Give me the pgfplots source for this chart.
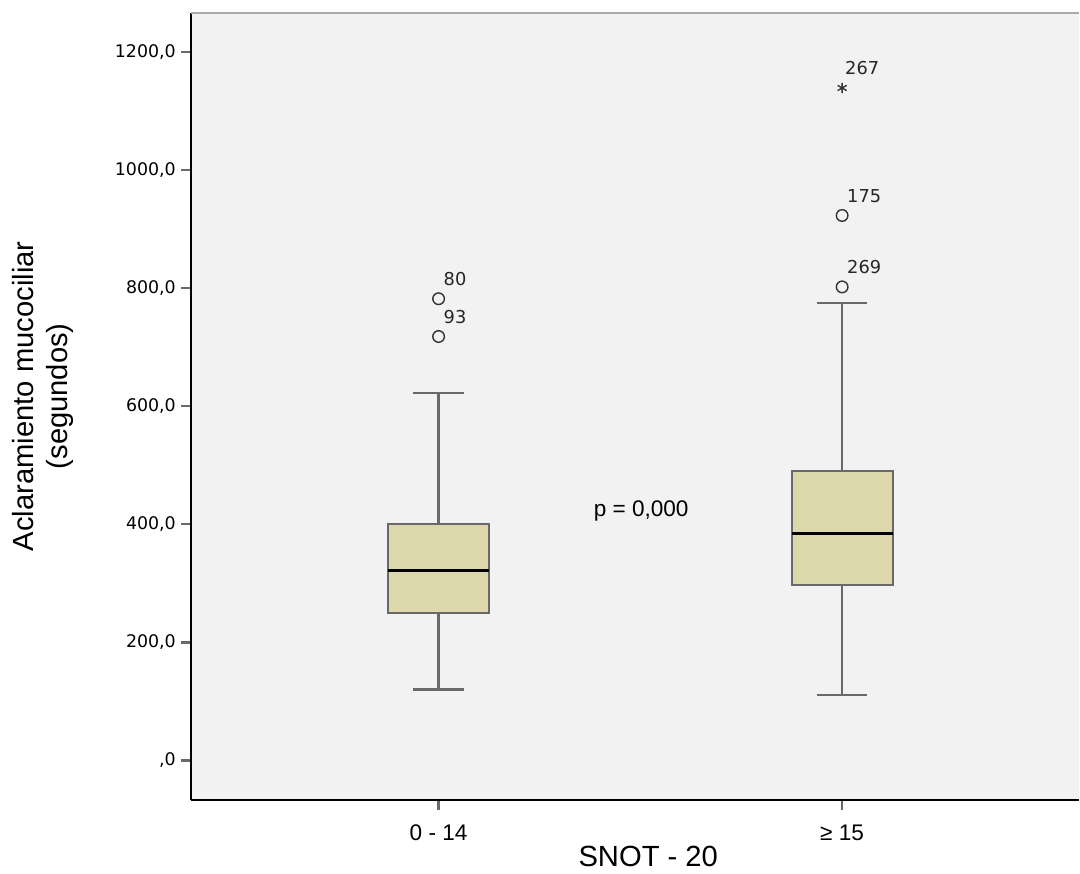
\documentclass[border=0pt]{standalone}
\usepackage{fontspec}
\setmainfont{Liberation Sans}
\newfontfamily\dv{DejaVu Sans}
\usepackage{pgfplots}
\pgfplotsset{compat=1.18}
\definecolor{bg}{RGB}{242,242,242}
\definecolor{boxfill}{RGB}{220,216,172}
\definecolor{boxedge}{RGB}{105,105,105}
\definecolor{topline}{RGB}{170,170,170}
\begin{document}
\begin{tikzpicture}
\path (-95.5pt,-35.65pt) rectangle (444.5pt,400.35pt);
\begin{axis}[
  scale only axis, width=444.5pt, height=393.85pt,
  at={(0pt,0pt)}, anchor=south west,
  xmin=-0.614, xmax=1.587, ymin=-67, ymax=1266,
  axis background/.style={fill=bg},
  axis x line*=bottom, axis y line*=left,
  axis line style={black, line width=1pt, -},
  tick align=outside, major tick length=5pt,
  tick style={color=boxedge, line width=1.2pt},
  xtick={0,1}, xticklabels={0 - 14, ≥ 15},
  xticklabel style={font=\fontsize{11.3}{13}\selectfont, anchor=north, yshift=-4pt},
  ytick={0,200,400,600,800,1000,1200},
  yticklabels={{,0},{200,0},{400,0},{600,0},{800,0},{1000,0},{1200,0}},
  yticklabel style={font=\dv\fontsize{8.7}{10}\selectfont, anchor=east, xshift=1pt},
  xlabel={SNOT - 20},
  xlabel style={font=\fontsize{14.6}{17}\selectfont, at={(axis description cs:0.515,-0.072)}, anchor=center},
  ylabel={Aclaramiento mucociliar\\(segundos)},
  ylabel style={font=\fontsize{14.6}{17}\selectfont, align=center, at={(axis description cs:-0.166,0.513)}, anchor=center},
  clip=false,
]
\draw[topline, line width=1pt] (rel axis cs:0,1) -- (rel axis cs:1,1);
% group 0-14: whiskers 120 / 623, box 250.5-401, median 321.6
\addplot[boxedge, line width=1.1pt] coordinates {(0,120) (0,250.5)};
\addplot[boxedge, line width=1.1pt] coordinates {(0,401) (0,623)};
\addplot[boxedge, line width=1.1pt] coordinates {(-0.0625,120) (0.0625,120)};
\addplot[boxedge, line width=1.1pt] coordinates {(-0.0625,623) (0.0625,623)};
\addplot[fill=boxfill, draw=boxedge, line width=1pt] coordinates {(-0.125,250.5) (0.125,250.5) (0.125,401) (-0.125,401)} -- cycle;
\addplot[black, line width=1.6pt] coordinates {(-0.125,321.6) (0.125,321.6)};
% group >=15: whiskers 110.5 / 775, box 296.7-489.7, median 385
\addplot[boxedge, line width=1.1pt] coordinates {(1,110.5) (1,296.7)};
\addplot[boxedge, line width=1.1pt] coordinates {(1,489.7) (1,775)};
\addplot[boxedge, line width=1.1pt] coordinates {(0.9375,110.5) (1.0625,110.5)};
\addplot[boxedge, line width=1.1pt] coordinates {(0.9375,775) (1.0625,775)};
\addplot[fill=boxfill, draw=boxedge, line width=1pt] coordinates {(0.875,296.7) (1.125,296.7) (1.125,489.7) (0.875,489.7)} -- cycle;
\addplot[black, line width=1.6pt] coordinates {(0.875,385) (1.125,385)};
% outliers
\addplot[only marks, mark=o, mark size=2.9pt, mark options={draw=black!80, line width=0.7pt},
   nodes near coords, point meta=explicit symbolic,
   nodes near coords style={font=\dv\fontsize{8.9}{10}\selectfont, anchor=south west, inner sep=0pt, xshift=2.2pt, yshift=6.2pt, text=black!85}]
  table[meta=lbl] {
x y lbl
0 782 80
0 718 93
1 802 269
1 923 175
};
\addplot[only marks, mark=asterisk, mark size=2.6pt, mark options={draw=black!80, line width=0.7pt},
   nodes near coords, point meta=explicit symbolic,
   nodes near coords style={font=\dv\fontsize{8.9}{10}\selectfont, anchor=south west, inner sep=0pt, xshift=1.2pt, yshift=6.2pt, text=black!85}]
  table[meta=lbl] {
x y lbl
1 1139 267
};
\node[font=\fontsize{11.3}{13}\selectfont, anchor=center] at (axis cs:0.502,423) {p = 0,000};
\end{axis}
\end{tikzpicture}
\end{document}
